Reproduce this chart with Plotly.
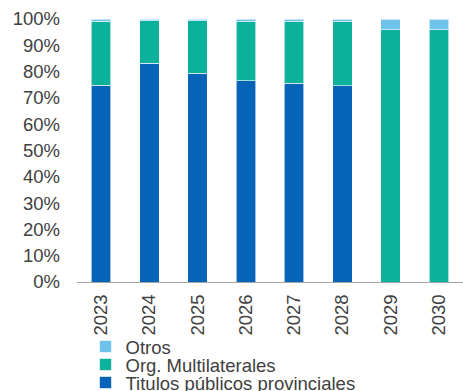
import plotly.graph_objects as go

years = ["2023", "2024", "2025", "2026", "2027", "2028", "2029", "2030"]
titulos = [74.9, 83.1, 79.3, 76.5, 75.5, 74.6, 0, 0]
multilaterales = [24.3, 16.2, 20.0, 22.5, 23.5, 24.4, 95.9, 95.9]
otros = [0.8, 0.7, 0.7, 1.0, 1.0, 1.0, 4.1, 4.1]

names = ["Titulos públicos provinciales", "Org. Multilaterales", "Otros"]
colors = ["#0563B8", "#0BB19A", "#6EC3EA"]
legend_ids = ["legend3", "legend2", "legend"]

fig = go.Figure()
for name, vals, col, lg in zip(names, [titulos, multilaterales, otros], colors, legend_ids):
    fig.add_trace(go.Bar(
        x=years, y=vals, name=name, legend=lg,
        marker=dict(color=col, line=dict(color="rgba(255,255,255,0.6)", width=1)),
    ))

plot_top, plot_bottom = 19, 282
def py(pix):
    return (plot_bottom - pix) / (plot_bottom - plot_top)

FS = 18.5
leg_common = dict(x=0.022, xanchor="left", yanchor="middle",
                  font=dict(size=FS, color="#404040"),
                  itemwidth=30, bgcolor="rgba(0,0,0,0)")

fig.update_layout(
    barmode="stack",
    bargap=0.6,
    width=463, height=391,
    margin=dict(l=77, r=0, t=19, b=109, autoexpand=False),
    paper_bgcolor="white", plot_bgcolor="white",
    font=dict(family="Liberation Sans, Arial", size=FS, color="#404040"),
    showlegend=True,
    legend=dict(y=py(347), **leg_common),
    legend2=dict(y=py(365), **leg_common),
    legend3=dict(y=py(383), **leg_common),
    xaxis=dict(
        type="category",
        tickangle=-90,
        showline=True, linecolor="#A6A6A6", linewidth=1,
        showgrid=False, ticks="",
        ticklabelstandoff=4,
        automargin=False,
    ),
    yaxis=dict(
        range=[0, 100],
        dtick=10,
        ticksuffix="%",
        showgrid=False, showline=False, zeroline=False,
        ticks="",
        ticklabelstandoff=16,
        automargin=False,
    ),
)

fig.write_html("out.html")
